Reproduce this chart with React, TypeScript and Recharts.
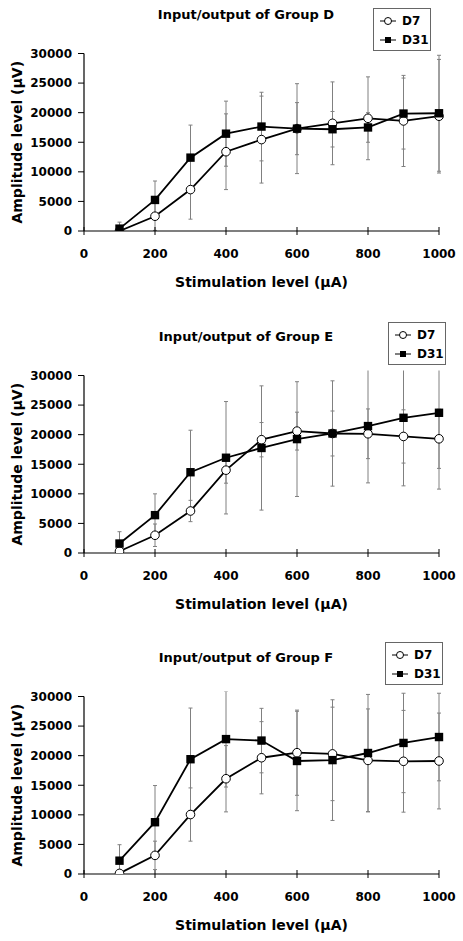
import React from 'react';
import { LineChart, Line, XAxis, YAxis, ErrorBar, Legend } from 'recharts';

// stimulation levels (µA)
const stimulation = [100, 200, 300, 400, 500, 600, 700, 800, 900, 1000];
const xTicks = [0, 200, 400, 600, 800, 1000];
const yTicks = [0, 5000, 10000, 15000, 20000, 25000, 30000];
const seriesOrder = ['D7', 'D31'];

// Group D (µV)
const groupD_D7 = [0, 2500, 7000, 13400, 15450, 17300, 18200, 19050, 18600, 19400];
const groupD_D7Err = [300, 2400, 5000, 6400, 7350, 7600, 7000, 7000, 7700, 9600];
const groupD_D31 = [400, 5250, 12400, 16450, 17650, 17300, 17200, 17500, 19850, 19900];
const groupD_D31Err = [1100, 3200, 5500, 5500, 5800, 4400, 3000, 2500, 6000, 9800];

// Group E
const groupE_D7 = [300, 3000, 7100, 14000, 19150, 20600, 20200, 20150, 19700, 19300];
const groupE_D7Err = [500, 1900, 1800, 2200, 2900, 3200, 3800, 4200, 4500, 5000];
const groupE_D31 = [1600, 6400, 13650, 16100, 17750, 19250, 20200, 21450, 22850, 23700];
const groupE_D31Err = [2000, 3600, 7100, 9500, 10500, 9700, 8900, 9600, 11500, 12900];

// Group F
const groupF_D7 = [100, 3150, 10050, 16100, 19650, 20500, 20300, 19200, 19050, 19100];
const groupF_D7Err = [300, 2400, 4500, 5600, 6100, 7200, 7900, 8700, 8600, 8100];
const groupF_D31 = [2250, 8750, 19400, 22800, 22550, 19100, 19250, 20450, 22150, 23150];
const groupF_D31Err = [2700, 6200, 8650, 8100, 5450, 8400, 10200, 9900, 8400, 7400];

const FONT = '"DejaVu Sans", sans-serif';

const buildRows = (d7: number[], d7Err: number[], d31: number[], d31Err: number[]) =>
  stimulation.map((x, i) => ({ x, d7: d7[i], d7Err: d7Err[i], d31: d31[i], d31Err: d31Err[i] }));

const SquareDot = (props: any) => {
  const { cx, cy, index } = props;
  if (cx == null || cy == null) return <g key={index} />;
  return <rect key={index} x={cx - 4.2} y={cy - 4.2} width={8.4} height={8.4} fill="#000" />;
};

const XTick = (props: any) => {
  const { x, y, payload } = props;
  return (
    <g>
      <line x1={x} y1={y - 4} x2={x} y2={y + 4} stroke="#000" />
      <text x={x} y={y + 26.5} textAnchor="middle" fill="#000" fontSize={12} fontWeight="bold" fontFamily={FONT}>
        {payload.value}
      </text>
    </g>
  );
};

const LegendBox = (props: any) => {
  const payload = [...(props.payload || [])].sort(
    (a: any, b: any) => seriesOrder.indexOf(a.value) - seriesOrder.indexOf(b.value),
  );
  return (
    <div
      style={{
        width: 58, height: 43, boxSizing: 'border-box', border: '1px solid #666', background: '#fff',
        paddingTop: 2, fontFamily: FONT, fontWeight: 'bold', fontSize: 12, color: '#000',
      }}
    >
      {payload.map((entry: any) => (
        <div key={entry.value} style={{ display: 'flex', alignItems: 'center', height: 19.5, paddingLeft: 6 }}>
          <svg width={16} height={10} style={{ display: 'block' }}>
            <line x1={0} y1={5} x2={16} y2={5} stroke="#000" strokeWidth={1} />
            {entry.value === 'D7'
              ? <circle cx={8} cy={5} r={3.5} fill="#fff" stroke="#000" />
              : <rect x={5} y={2} width={6} height={6} fill="#000" />}
          </svg>
          <span style={{ marginLeft: 6 }}>{entry.value}</span>
        </div>
      ))}
    </div>
  );
};

interface PanelProps {
  title: string;
  top: number;
  legendLeft: number;
  legendTop: number;
  rows: ReturnType<typeof buildRows>;
}

const Panel = ({ title, top, legendLeft, legendTop, rows }: PanelProps) => (
  <div style={{ position: 'absolute', left: 0, top, width: 463, height: 300 }}>
    <div
      style={{
        position: 'absolute', left: 96, top: 7, width: 300, textAlign: 'center',
        fontFamily: FONT, fontWeight: 'bold', fontSize: 13, lineHeight: '16px', color: '#000',
      }}
    >
      {title}
    </div>
    <LineChart width={463} height={300} data={rows} margin={{ top: 53.5, right: 24, bottom: 0, left: 0 }}>
      <XAxis
        dataKey="x" type="number" domain={[0, 1000]} ticks={xTicks} interval={0} height={69}
        axisLine={{ stroke: '#000', strokeWidth: 1.2 }} tickLine={false} tickSize={0} tickMargin={0}
        tick={XTick}
        label={{
          value: 'Stimulation level (µA)', position: 'insideBottom', offset: 13,
          style: { fontFamily: FONT, fontWeight: 'bold', fontSize: 14, fill: '#000' },
        }}
      />
      <YAxis
        type="number" domain={[0, 30000]} ticks={yTicks} interval={0} allowDataOverflow width={84}
        axisLine={{ stroke: '#000', strokeWidth: 1.2 }} tickLine={{ stroke: '#000' }} tickSize={6} tickMargin={6}
        tick={{ fill: '#000', fontSize: 12, fontWeight: 'bold', fontFamily: FONT }}
        label={{
          value: 'Amplitude level (µV)', angle: -90, position: 'insideLeft', offset: 17,
          style: { textAnchor: 'middle', fontFamily: FONT, fontWeight: 'bold', fontSize: 14, fill: '#000' },
        }}
      />
      <Legend
        layout="horizontal" verticalAlign="middle" align="center" content={LegendBox}
        wrapperStyle={{ left: legendLeft, top: legendTop, width: 58, height: 43 }}
      />
      <Line
        dataKey="d7" name="D7" stroke="#000" strokeWidth={1.8} isAnimationActive={false}
        dot={{ r: 4.3, fill: '#fff', stroke: '#000', strokeWidth: 1 }} activeDot={false}
      >
        <ErrorBar
          dataKey="d7Err" direction="y" width={2} stroke="#808080" strokeWidth={1}
          clipPath="url(#errorClip)" style={{ clipPath: 'url(#errorClip)' }}
        />
      </Line>
      <Line
        dataKey="d31" name="D31" stroke="#000" strokeWidth={1.8} isAnimationActive={false}
        dot={SquareDot} activeDot={false}
      >
        <ErrorBar
          dataKey="d31Err" direction="y" width={2} stroke="#808080" strokeWidth={1}
          clipPath="url(#errorClip)" style={{ clipPath: 'url(#errorClip)' }}
        />
      </Line>
    </LineChart>
  </div>
);

export default function App() {
  return (
    <div style={{ position: 'absolute', left: 0, top: 0, width: 463, height: 941, background: '#fff' }}>
      <svg width={0} height={0} style={{ position: 'absolute' }}>
        <defs>
          <clipPath id="errorClip" clipPathUnits="userSpaceOnUse">
            <rect x={70} y={48.5} width={380} height={182.5} />
          </clipPath>
        </defs>
      </svg>
      <Panel title="Input/output of Group D" top={0} legendLeft={373} legendTop={8}
        rows={buildRows(groupD_D7, groupD_D7Err, groupD_D31, groupD_D31Err)} />
      <Panel title="Input/output of Group E" top={322} legendLeft={388} legendTop={0}
        rows={buildRows(groupE_D7, groupE_D7Err, groupE_D31, groupE_D31Err)} />
      <Panel title="Input/output of Group F" top={643} legendLeft={385} legendTop={-1}
        rows={buildRows(groupF_D7, groupF_D7Err, groupF_D31, groupF_D31Err)} />
    </div>
  );
}
